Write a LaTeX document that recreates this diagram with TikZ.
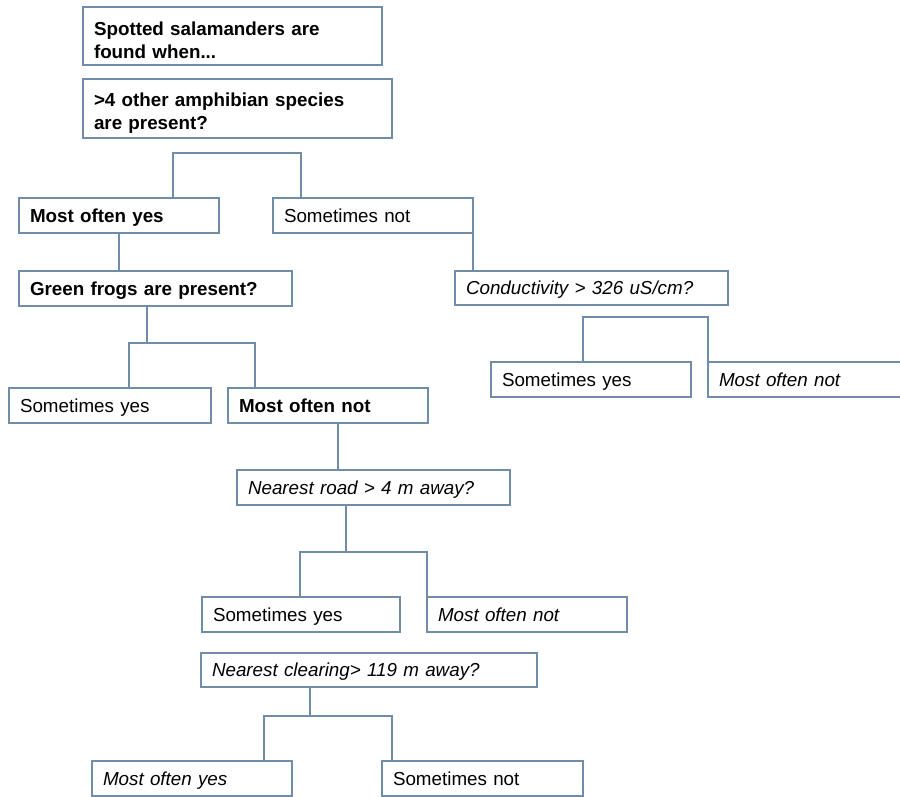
\documentclass[tikz,border=0pt]{standalone}
\usepackage{fontspec}
\setmainfont{Liberation Sans}
\definecolor{edge}{RGB}{112,140,166}
\begin{document}
\begin{tikzpicture}[x=1pt,y=-1pt,
  box/.style={draw=edge, line width=1.1pt, rectangle, anchor=north west,
    inner xsep=11pt, inner ysep=0pt, outer sep=0pt, align=left,
    minimum height=35pt, font=\fontsize{18.8}{23}\selectfont},
  one/.style={text height=17pt, text depth=3.5pt},
  tw/.style={text width=#1pt},
  bf/.style={font=\fontsize{18.8}{23}\selectfont\bfseries},
  it/.style={font=\fontsize{18.8}{23}\selectfont\itshape},
  link/.style={draw=edge, line width=1.1pt}]
\useasboundingbox (0,0) rectangle (900,796);

% question and answer boxes
\node[box, bf, tw=277, minimum height=58pt] (A) at (83,7)
  {\rule{0pt}{22pt}Spotted salamanders are\\found when...};
\node[box, bf, tw=287, minimum height=59pt] (B) at (83,79)
  {\rule{0pt}{22pt}>4 other amphibian species\\are present?};
\node[box, one, bf, tw=178] (C) at (19,198) {Most often yes};
\node[box, one, tw=178] (D) at (273,198) {Sometimes not};
\node[box, one, bf, tw=251] (E) at (19,271) {Green frogs are present?};
\node[box, one, it, tw=251, minimum height=34pt] (F) at (455,271) {Conductivity > 326 uS/cm?};
\node[box, one, tw=178] (G) at (491,362) {Sometimes yes};
\node[box, one, it, tw=180] (H) at (708,362) {Most often not};
\node[box, one, tw=180] (I) at (9,388) {Sometimes yes};
\node[box, one, bf, tw=178] (J) at (228,388) {Most often not};
\node[box, one, it, tw=251] (K) at (237,470) {Nearest road > 4 m away?};
\node[box, one, tw=176] (L) at (202,597) {Sometimes yes};
\node[box, one, it, tw=178] (M) at (427,597) {Most often not};
\node[box, one, it, tw=314, minimum height=34pt] (N) at (201,653) {Nearest clearing> 119 m away?};
\node[box, one, it, tw=178] (O) at (92,761) {Most often yes};
\node[box, one, tw=179] (P) at (382,761) {Sometimes not};

% junction points of the branching lines
\coordinate (bl) at (173,153);
\coordinate (br) at (301,153);
\coordinate (ej) at (147,343);
\coordinate (el) at (129,343);
\coordinate (er) at (255,343);
\coordinate (fl) at (583,317);
\coordinate (fr) at (708,317);
\coordinate (jx) at (338,450);
\coordinate (kj) at (346,552);
\coordinate (kl) at (300,552);
\coordinate (kr) at (427,552);
\coordinate (nj) at (310,716);
\coordinate (nl) at (264,716);
\coordinate (nr) at (392,716);

% connectors
\draw[link] (bl |- C.north) -- (bl) -- (br) -- (br |- D.north);
\draw[link] (C.south) -- (C.south |- E.north);
\draw[link] (D.south east) -- (D.south east |- F.north);
\draw[link] (ej |- E.south) -- (ej);
\draw[link] (el |- I.north) -- (el) -- (er) -- (er |- J.north);
\draw[link] (fl |- G.north) -- (fl) -- (fr) -- (fr |- H.north);
\draw[link] (jx |- J.south) -- (jx |- K.north);
\draw[link] (kj |- K.south) -- (kj);
\draw[link] (kl |- L.north) -- (kl) -- (kr) -- (kr |- M.north);
\draw[link] (nj |- N.south) -- (nj);
\draw[link] (nl |- O.north) -- (nl) -- (nr) -- (nr |- P.north);
\end{tikzpicture}
\end{document}
